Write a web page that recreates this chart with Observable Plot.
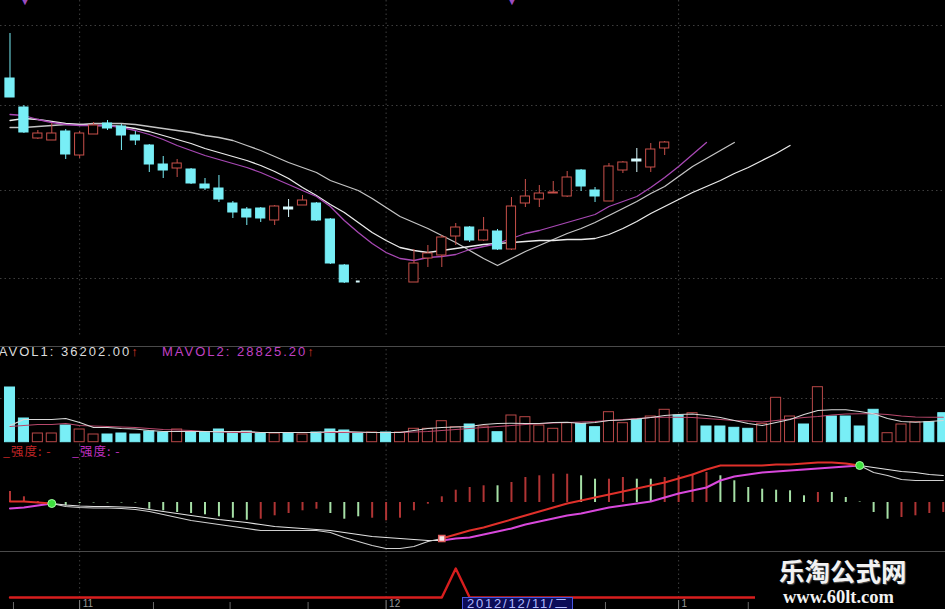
<!DOCTYPE html>
<html><head><meta charset="utf-8">
<script src="https://cdn.jsdelivr.net/npm/d3@7"></script>
<script src="https://cdn.jsdelivr.net/npm/@observablehq/plot@0.6"></script>
<style>
html,body{margin:0;padding:0;background:#000;}
#chart{position:relative;width:945px;height:609px;background:#000;overflow:hidden;font-family:"Liberation Sans",Arial,sans-serif;}
.lbl{position:absolute;white-space:nowrap;}
.sep{position:absolute;left:0;height:1px;background:#4a4a4a;}
</style></head><body>
<div id="chart"></div>
<script>
// ---------- price panel (candles 0..47; 26-28 blank) ----------
const openP  = [32.2,29.3,26.2,26.0,26.9,24.5,26.6,27.7,27.4,26.5,25.5,23.6,23.2,23.1,21.6,21.2,19.7,19.1,19.2,18.0,19.3,19.5,19.7,18.1,13.5,11.9,null,null,null,11.8,14.2,14.5,16.4,17.3,16.0,16.9,15.1,19.7,20.1,20.7,20.4,23.0,21.0,19.9,23.0,24.1,23.3,25.2];
const highP  = [36.7,29.5,27.0,27.7,27.1,26.9,27.8,28.0,27.6,26.9,25.6,24.4,24.1,23.2,22.2,22.5,19.9,19.3,19.3,19.5,20.1,20.5,19.8,18.2,13.6,11.9,null,null,null,15.1,15.5,16.5,17.7,17.4,18.3,17.1,20.3,22.1,21.5,21.9,22.9,23.1,21.3,23.7,23.9,25.2,25.7,25.9];
const lowP   = [30.3,26.7,26.1,26.0,24.1,24.2,26.6,27.0,25.0,25.5,22.8,22.2,22.3,21.6,21.0,19.8,18.2,17.5,17.8,17.5,18.3,19.5,17.9,13.6,11.7,11.8,null,null,null,11.8,13.3,13.3,15.5,15.8,15.9,15.0,15.0,19.3,19.3,20.7,20.3,20.9,19.8,19.9,22.7,22.8,22.8,24.5];
const closeP = [30.3,26.8,26.7,26.7,24.6,26.7,27.5,27.2,26.5,26.0,23.6,23.0,23.7,21.7,21.2,20.1,18.8,18.3,18.2,19.4,19.1,20.0,18.0,13.7,11.8,11.8,null,null,null,13.7,14.7,16.3,17.3,16.0,17.0,15.1,19.4,20.4,20.7,20.8,22.3,21.4,20.4,23.4,23.8,23.9,25.1,25.8];
const maA = [27.3,27.3,27.4,27.5,27.6,27.6,27.7,27.7,27.7,27.6,27.4,27.2,27.0,26.8,26.5,26.3,26.0,25.5,25.0,24.4,23.8,23.3,22.8,22.0,21.5,21.0,20.2,19.3,18.4,17.8,17.2,16.5,15.8,15.0,14.2,13.5,14.2,14.9,15.5,16.1,16.7,17.2,17.8,18.5,19.2,19.9,20.7,21.4,22.4,23.4,24.2,25.0,25.8];
const maB = [28.0,28.2,28.1,27.9,27.7,27.6,27.5,27.5,27.4,27.2,26.9,26.5,26.1,25.7,25.2,24.8,24.4,24.0,23.5,22.9,22.2,21.3,20.5,19.6,18.8,17.8,16.8,16.0,15.3,15.0,14.8,15.0,15.2,15.4,15.6,15.7,15.8,15.9,16.0,16.0,16.1,16.1,16.2,16.6,17.2,17.9,18.7,19.4,20.1,20.8,21.4,22.0,22.7,23.3,24.0,24.7,25.5];
const maC = [28.6,28.5,28.1,27.8,27.6,27.5,27.5,27.5,27.3,27.0,26.6,26.1,25.5,25.0,24.5,24.1,23.7,23.3,22.8,22.2,21.6,21.0,20.4,19.4,18.0,16.8,15.7,14.8,14.2,14.0,14.3,14.4,14.6,15.1,15.4,15.7,16.2,16.7,17.0,17.4,17.8,18.2,18.6,19.4,19.9,20.4,21.3,22.3,23.4,24.6,25.8];
const priceGrid = [37.5, 29.5, 21.0, 12.2];

// ---------- volume panel ----------
const volume = [54700,23700,8700,8700,16700,12700,7700,7700,8700,7700,10700,9700,12700,9700,9700,12700,9700,10700,8700,8700,8700,7700,9700,12700,11700,8700,9700,9700,9700,13400,13400,21000,15000,17700,15700,10000,26700,25000,16700,13400,19000,18400,15000,30000,19000,22400,25700,32400,26700,29000,15700,15700,14400,13400,18400,44400,25700,17700,55000,25700,25700,15700,32400,9000,17700,20000,20000,29000];
const volDir = "dduuduuddd"+"dduddddddu"+"dudddduduu"+"uuududuuuu"+"udduuduudu"+"dddduuudud"+"ddduuudd";
const mavol1 = [16700,22700,22700,22700,23700,19700,14700,14700,13700,13200,11700,10700,10700,10700,10700,10700,10700,10700,9700,9700,9700,9700,9700,10700,10700,10200,9700,9700,9700,11700,13700,14700,15200,15700,17700,18700,19000,18700,18700,19700,20000,18700,19700,21700,22200,23200,24700,26700,27700,28200,26700,24700,21700,18700,16700,19700,22700,27700,31700,32400,32400,30700,28400,23700,20700,20000,20700,21700];
const mavol2 = [15700,16700,17700,17700,18700,16700,16200,15700,15200,14700,13700,12700,12200,11700,10700,10200,9700,9700,9700,9700,9700,9700,9700,9700,9700,9700,9700,9700,9700,10200,10700,11700,12700,13700,14700,15700,16700,17700,18400,19200,19700,20200,20700,21700,22700,23700,24700,25000,25000,24700,23700,22700,21700,21200,20200,21700,23200,24700,25700,27200,28200,28400,28400,27700,26200,25200,25000,25000];
const volGrid = [43700];
const mavolText = ["MAVOL1: 36202.00", "MAVOL2: 28825.20"];

// ---------- indicator panel ----------
const dif = [0.01,0.01,0.00,-0.01,-0.04,-0.05,-0.055,-0.055,-0.06,-0.07,-0.09,-0.12,-0.15,-0.18,-0.20,-0.22,-0.24,-0.26,-0.28,-0.28,-0.28,-0.28,-0.28,-0.30,-0.35,-0.39,-0.43,-0.46,-0.46,-0.44,-0.39,-0.36,-0.32,-0.28,-0.25,-0.21,-0.17,-0.13,-0.09,-0.05,-0.01,0.02,0.05,0.08,0.11,0.14,0.17,0.20,0.24,0.28,0.33,0.37,0.37,0.37,0.37,0.38,0.38,0.39,0.40,0.40,0.39,0.37,0.30,0.27,0.23,0.22,0.22,0.22];
const dea = [-0.06,-0.05,-0.03,-0.01,-0.025,-0.035,-0.04,-0.04,-0.045,-0.05,-0.07,-0.09,-0.11,-0.13,-0.15,-0.17,-0.185,-0.20,-0.22,-0.24,-0.25,-0.26,-0.27,-0.28,-0.30,-0.32,-0.34,-0.35,-0.36,-0.37,-0.38,-0.38,-0.36,-0.35,-0.32,-0.29,-0.26,-0.22,-0.19,-0.16,-0.13,-0.11,-0.08,-0.05,-0.03,-0.01,0.01,0.05,0.09,0.12,0.15,0.22,0.26,0.28,0.30,0.31,0.32,0.33,0.34,0.35,0.36,0.37,0.35,0.33,0.31,0.30,0.28,0.27];
const hist = [0.11,0.057,0.01,0.005,-0.033,-0.01,-0.005,-0.005,-0.005,-0.005,-0.067,-0.083,-0.10,-0.11,-0.123,-0.143,-0.157,-0.177,-0.167,-0.133,-0.11,-0.083,-0.067,-0.11,-0.167,-0.143,-0.157,-0.183,-0.157,-0.083,-0.017,0.057,0.123,0.15,0.167,0.167,0.20,0.25,0.267,0.283,0.283,0.267,0.233,0.233,0.25,0.233,0.233,0.25,0.267,0.283,0.30,0.267,0.217,0.15,0.133,0.123,0.117,0.067,0.10,0.10,0.05,0.005,-0.10,-0.167,-0.15,-0.133,-0.11,-0.10];
const histDir = "rrrggggggg"+"ggggggggrr"+"rrrgggrrrr"+"rrrrrgrrrr"+"rggrrggrrr"+"rgggggggrg"+"ggggrrrr";
const strengthText = ["_强度: -", "_强度: -"];

// ---------- signal panel ----------
const signal = [0,0,0,0,0,0,0,0,0,0,0,0,0,0,0,0,0,0,0,0,0,0,0,0,0,0,0,0,0,0,0,0,1,0,0,0,0,0,0,0,0,0,0,0,0,0,0,0,0,0,0,0,0,0,0,0,0,0,0,0,0,0,0,0,0,0,0,0];
const monthTicks = [5, 27, 48];
const monthLabels = ["11", "12", "1"];
const minorTicks = [0.25, 10.3, 15.8, 21.4, 42.75, 53.0];
const cursorDate = "2012/12/11/二";

// ---------- colours ----------
const UP = "#c8504a", DOWN = "#78eef6", GRID = "#3e3e3e";
const chart = document.getElementById("chart");
const XD = [-0.682, 67.16];

function panel(top, height, y, marks) {
  const svg = Plot.plot({
    width: 945, height, marginTop: 0, marginRight: 0, marginBottom: 0, marginLeft: 0,
    x: {domain: XD, axis: null}, y: {...y, axis: null},
    style: {background: "transparent", overflow: "visible", fontFamily: "Liberation Sans, Arial, sans-serif"},
    marks
  });
  svg.style.position = "absolute"; svg.style.left = "0px"; svg.style.top = top + "px";
  chart.appendChild(svg);
}
const series = arr => arr.map((v, i) => ({i, v}));

// price
const candles = openP.map((o, i) => ({i, o, h: highP[i], l: lowP[i], c: closeP[i]})).filter(d => d.o != null);
const isUp = d => d.c > d.o;
const downCol = d => Math.abs(d.c - d.o) < 0.25 ? "#d8fbff" : DOWN;
const halfW = d => (d.h - d.l) < 0.2 ? 0.1 : 0.33;
panel(0, 335, {domain: [6.5, 40]}, [
  Plot.ruleY(priceGrid, {stroke: GRID, strokeDasharray: "1.5,3"}),
  Plot.ruleX(monthTicks, {stroke: GRID, strokeDasharray: "1.5,3"}),
  Plot.line(series(maA), {x: "i", y: "v", stroke: "#c4c4c4", strokeWidth: 1.3}),
  Plot.line(series(maB), {x: "i", y: "v", stroke: "#ececec", strokeWidth: 1.3}),
  Plot.line(series(maC), {x: "i", y: "v", stroke: "#a848b4", strokeWidth: 1.3}),
  Plot.ruleX(candles.filter(isUp), {x: "i", y1: "l", y2: "o", stroke: UP}),
  Plot.ruleX(candles.filter(isUp), {x: "i", y1: "c", y2: "h", stroke: UP}),
  Plot.ruleX(candles.filter(d => !isUp(d)), {x: "i", y1: "l", y2: "h", stroke: downCol}),
  Plot.rect(candles, {x1: d => d.i - halfW(d), x2: d => d.i + halfW(d), y1: "o", y2: "c",
    fill: d => isUp(d) ? "#000" : downCol(d), stroke: d => isUp(d) ? UP : downCol(d)})
]);

// volume
const vols = volume.map((v, i) => ({i, v, up: volDir[i] === "u"}));
panel(335, 110, {domain: [0, 106700], range: [106.7, 0]}, [
  Plot.ruleY(volGrid, {stroke: GRID, strokeDasharray: "1.5,3"}),
  Plot.ruleX(monthTicks, {stroke: GRID, strokeDasharray: "1.5,3", insetTop: 14}),
  Plot.rect(vols, {x1: d => d.i - 0.36, x2: d => d.i + 0.36, y1: 0, y2: "v",
    fill: d => d.up ? "#000" : DOWN, stroke: d => d.up ? "#b84848" : DOWN}),
  Plot.line(series(mavol2), {x: "i", y: "v", stroke: "#b8486c", strokeWidth: 1.1}),
  Plot.line(series(mavol1), {x: "i", y: "v", stroke: "#d8d8d8", strokeWidth: 1.1})
]);

// indicator
const macd = dif.map((d, i) => ({i, dif: d, dea: dea[i], up: d >= dea[i]}));
const runs = []; let st = 0;
for (let i = 1; i <= macd.length; i++) {
  if (i === macd.length || macd[i].up !== macd[st].up) { runs.push({up: macd[st].up, a: st, b: i - 1}); st = i; }
}
const segs = [];
runs.forEach((r, k) => {
  let a = r.a, b = r.b;
  if (!r.up) { a = Math.max(0, a - 1); b = Math.min(macd.length - 1, b + 1); }
  for (let i = a; i <= b; i++) segs.push({...macd[i], seg: k, up: r.up});
});
const deaths = [], goldens = [];
runs.forEach((r, k) => {
  if (r.up && k < runs.length - 1) deaths.push(macd[r.b]);
  if (r.up && k > 0) goldens.push(macd[r.a]);
});
const hd = hist.map((v, i) => ({i, v, red: histDir[i] === "r"}));
panel(445, 106, {domain: [-0.49, 0.57]}, [
  Plot.ruleX(monthTicks, {stroke: GRID, strokeDasharray: "1.5,3"}),
  Plot.ruleX(hd, {x: "i", y1: 0, y2: "v", stroke: d => d.red ? "#b03434" : "#a6e0a6", strokeWidth: 2}),
  Plot.line(segs.filter(d => !d.up), {x: "i", y: "dea", z: "seg", stroke: "#e4e4e4", strokeWidth: 1.2}),
  Plot.line(segs.filter(d => !d.up), {x: "i", y: "dif", z: "seg", stroke: "#d0d0d0", strokeWidth: 1.2}),
  Plot.line(segs.filter(d => d.up), {x: "i", y: "dea", z: "seg", stroke: "#d848dc", strokeWidth: 2}),
  Plot.line(segs.filter(d => d.up), {x: "i", y: "dif", z: "seg", stroke: "#e0302a", strokeWidth: 2}),
  Plot.dot(deaths, {x: "i", y: "dif", r: 4, fill: "#3ee03e", stroke: "#a0ffa0", strokeWidth: 1}),
  Plot.dot(goldens, {x: "i", y: "dif", r: 3.5, symbol: "square", fill: "#f4e8e8", stroke: "#e06060", strokeWidth: 1.5})
]);

// signal + axis
panel(551, 58, {domain: [0, 1], range: [46, 17]}, [
  Plot.ruleX(monthTicks, {stroke: GRID, strokeDasharray: "1.5,3", insetBottom: 12}),
  Plot.line(series(signal), {x: "i", y: "v", stroke: "#d81e1e", strokeWidth: 2.4}),
  Plot.ruleX(monthTicks, {stroke: "#8a8a8a", insetTop: 49}),
  Plot.ruleX(minorTicks, {stroke: "#6a6a6a", insetTop: 51}),
  Plot.text(monthTicks, {x: d => d, text: (d, i) => monthLabels[i], frameAnchor: "bottom", lineAnchor: "bottom",
    textAnchor: "start", dx: 3, dy: -3, fill: "#9a9a9a", fontSize: 10})
]);

// separators
function sep(top, width) { const d = document.createElement("div"); d.className = "sep"; d.style.top = top + "px"; d.style.width = width + "px"; chart.appendChild(d); }
sep(346, 945); sep(551, 945);

function label(html, left, top, css) {
  const d = document.createElement("div"); d.className = "lbl"; d.innerHTML = html;
  d.style.left = left + "px"; d.style.top = top + "px"; Object.assign(d.style, css || {}); chart.appendChild(d); return d;
}
const volCss = {fontSize: "13px", letterSpacing: "2px", lineHeight: "14px"};
label(`<span style="color:#dcdcdc">${mavolText[0]}</span><span style="color:#e03a2a">↑</span>`, -14, 345, volCss);
label(`<span style="color:#c040c4">${mavolText[1]}</span><span style="color:#e03a2a">↑</span>`, 162, 345, volCss);
const strCss = {fontSize: "12.5px", lineHeight: "14px", letterSpacing: "1px", fontFamily: "'Noto Sans CJK SC', sans-serif"};
label(`<span style="color:#c02626">${strengthText[0]}</span>`, 3, 444, strCss);
label(`<span style="color:#c030c0">${strengthText[1]}</span>`, 72, 444, strCss);

// small purple cursor marks at the top
label(`<span style="color:#9a4cc0">▼</span>`, 19, -6, {fontSize: "12px"});
label(`<span style="color:#9a4cc0">▼</span>`, 506, -6, {fontSize: "12px"});

// cursor date box
label(cursorDate, 462, 597, {fontSize: "13px", lineHeight: "10px", height: "11px", color: "#b0b8ff", background: "#0c0c58",
  border: "1px solid #4656e0", borderBottom: "none", padding: "1px 3px 0 4px", letterSpacing: "1.8px", overflow: "hidden",
  fontFamily: "'Liberation Sans', 'Noto Sans CJK SC', sans-serif"});

// watermark
const wm = document.createElement("div");
Object.assign(wm.style, {position: "absolute", left: "755px", top: "553px", width: "190px", height: "56px", background: "#000"});
chart.appendChild(wm);
label("乐淘公式网", 779, 557, {fontSize: "25.5px", lineHeight: "26px", fontWeight: "bold", color: "#f2f2f2",
  fontFamily: "'Noto Sans CJK SC', sans-serif", textShadow: "1px 1px 1px #555"});
label("www.60lt.com", 783, 588, {fontSize: "18.5px", lineHeight: "18px", fontWeight: "bold", color: "#f2f2f2",
  fontFamily: "'Liberation Serif', 'DejaVu Serif', serif"});
</script></body></html>
